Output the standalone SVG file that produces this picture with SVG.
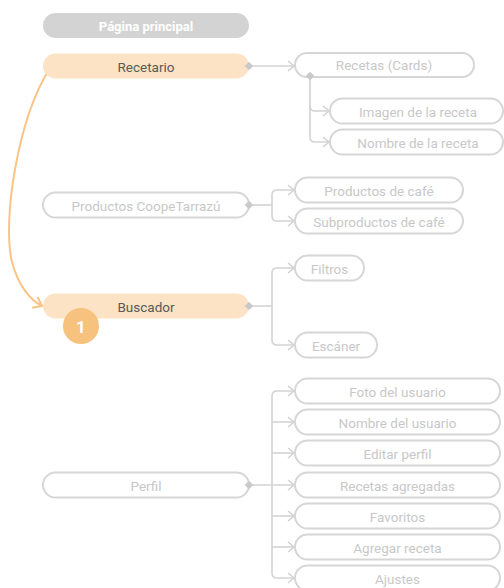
<svg xmlns="http://www.w3.org/2000/svg" width="504" height="588" viewBox="0 0 504 588">
<defs>
<style>
.box{fill:#fff;stroke:#d6d6d6;stroke-width:2}
.hi{fill:#fce3c5;stroke:none}
.t{font-family:Roboto,"Liberation Sans",sans-serif;font-size:13.5px;text-anchor:middle;dominant-baseline:central;fill:#c8c8c8}
.td{fill:#5a5a5a}
.c{fill:none;stroke:#d3d3d3;stroke-width:1.6}
.dm{fill:#c9c9c9}
</style>
<marker id="ch" markerWidth="8" markerHeight="12" refX="7" refY="6" orient="auto" markerUnits="userSpaceOnUse"><path d="M1,1 L7,6 L1,11" fill="none" stroke="#d3d3d3" stroke-width="1.6"/></marker>
<marker id="cho" markerWidth="10" markerHeight="14" refX="9" refY="7" orient="auto" markerUnits="userSpaceOnUse"><path d="M1,1 L9,7 L1,13" fill="none" stroke="#f8c487" stroke-width="2"/></marker>
</defs>
<g id="connectors">
<path class="c" d="M249,66 H294" marker-end="url(#ch)"/>
<path class="c" d="M310,76 V106 Q310,111 315,111 H329" marker-end="url(#ch)"/>
<path class="c" d="M310,106 V137 Q310,142 315,142 H329" marker-end="url(#ch)"/>
<path class="c" d="M249,205 H272"/>
<path class="c" d="M272,205 V195 Q272,190 277,190 H294" marker-end="url(#ch)"/>
<path class="c" d="M272,205 V216 Q272,221 277,221 H294" marker-end="url(#ch)"/>
<path class="c" d="M249,306 H272"/>
<path class="c" d="M272,306 V273 Q272,268 277,268 H294" marker-end="url(#ch)"/>
<path class="c" d="M272,306 V340 Q272,345 277,345 H294" marker-end="url(#ch)"/>
<path class="c" d="M249,485 H294" marker-end="url(#ch)"/>
<path class="c" d="M272,485 V396 Q272,391 277,391 H294" marker-end="url(#ch)"/>
<path class="c" d="M272,422 H294" marker-end="url(#ch)"/>
<path class="c" d="M272,453 H294" marker-end="url(#ch)"/>
<path class="c" d="M272,516 H294" marker-end="url(#ch)"/>
<path class="c" d="M272,547 H294" marker-end="url(#ch)"/>
<path class="c" d="M272,485 V573 Q272,578 277,578 H294" marker-end="url(#ch)"/>
<path d="M50,68 C18,118 2,220 12,262 C18,285 30,300 42,306" fill="none" stroke="#f8c487" stroke-width="2" marker-end="url(#cho)"/>
</g>
<g id="pagina-principal">
<rect x="43" y="13" width="206" height="25" rx="12.5" fill="#d3d3d3"/>
<text class="t" x="146" y="26" style="fill:#fff;font-weight:bold;font-size:13px">Página principal</text>
</g>
<g id="recetario">
<rect class="hi" x="43" y="53.5" width="206" height="25" rx="12.5"/>
<text class="t td" x="146" y="66.5">Recetario</text>
<rect class="dm" x="246" y="63" width="6" height="6" transform="rotate(45 249 66)"/>
</g>
<g id="recetas-cards">
<rect class="box" x="295" y="53" width="179" height="24" rx="12"/>
<text class="t" x="384" y="64.5">Recetas (Cards)</text>
<rect class="dm" x="307" y="73" width="6" height="6" transform="rotate(45 310 76)"/>
</g>
<g id="imagen-receta">
<rect class="box" x="330" y="98.5" width="173" height="25" rx="12.5"/>
<text class="t" x="418" y="111.5">Imagen de la receta</text>
</g>
<g id="nombre-receta">
<rect class="box" x="330" y="129.5" width="173" height="25" rx="12.5"/>
<text class="t" x="418" y="142.5">Nombre de la receta</text>
</g>
<g id="productos-coope">
<rect class="box" x="43" y="192.5" width="206" height="25" rx="12.5"/>
<text class="t" x="146" y="205.5">Productos CoopeTarrazú</text>
<rect class="dm" x="246" y="202" width="6" height="6" transform="rotate(45 249 205)"/>
</g>
<g id="productos-cafe">
<rect class="box" x="295" y="177.5" width="168" height="25" rx="12.5"/>
<text class="t" x="379" y="190.5">Productos de café</text>
</g>
<g id="subproductos-cafe">
<rect class="box" x="295" y="208.5" width="168" height="25" rx="12.5"/>
<text class="t" x="379" y="221.5">Subproductos de café</text>
</g>
<g id="buscador">
<rect class="hi" x="43" y="293.5" width="206" height="25" rx="12.5"/>
<text class="t td" x="146" y="306.5">Buscador</text>
<rect class="dm" x="246" y="303" width="6" height="6" transform="rotate(45 249 306)"/>
<circle cx="81" cy="326" r="18" fill="#f6c27e"/>
<text class="t" x="81" y="327" style="fill:#fff;font-weight:bold;font-size:17px">1</text>
</g>
<g id="filtros">
<rect class="box" x="295" y="255.5" width="69" height="25" rx="12.5"/>
<text class="t" x="329.5" y="268.5">Filtros</text>
</g>
<g id="escaner">
<rect class="box" x="295" y="332.5" width="82" height="25" rx="12.5"/>
<text class="t" x="336" y="345.5">Escáner</text>
</g>
<g id="perfil">
<rect class="box" x="43" y="472.5" width="206" height="25" rx="12.5"/>
<text class="t" x="146" y="485.5">Perfil</text>
<rect class="dm" x="246" y="482" width="6" height="6" transform="rotate(45 249 485)"/>
</g>
<g id="foto-usuario">
<rect class="box" x="295" y="378.5" width="205" height="25" rx="12.5"/>
<text class="t" x="397.5" y="391.5">Foto del usuario</text>
</g>
<g id="nombre-usuario">
<rect class="box" x="295" y="409.5" width="205" height="25" rx="12.5"/>
<text class="t" x="397.5" y="422.5">Nombre del usuario</text>
</g>
<g id="editar-perfil">
<rect class="box" x="295" y="440.5" width="205" height="25" rx="12.5"/>
<text class="t" x="397.5" y="453.5">Editar perfil</text>
</g>
<g id="recetas-agregadas">
<rect class="box" x="295" y="472.5" width="205" height="25" rx="12.5"/>
<text class="t" x="397.5" y="485.5">Recetas agregadas</text>
</g>
<g id="favoritos">
<rect class="box" x="295" y="503.5" width="205" height="25" rx="12.5"/>
<text class="t" x="397.5" y="516.5">Favoritos</text>
</g>
<g id="agregar-receta">
<rect class="box" x="295" y="534.5" width="205" height="25" rx="12.5"/>
<text class="t" x="397.5" y="547.5">Agregar receta</text>
</g>
<g id="ajustes">
<rect class="box" x="295" y="565.5" width="205" height="25" rx="12.5"/>
<text class="t" x="397.5" y="578.5">Ajustes</text>
</g>
</svg>
